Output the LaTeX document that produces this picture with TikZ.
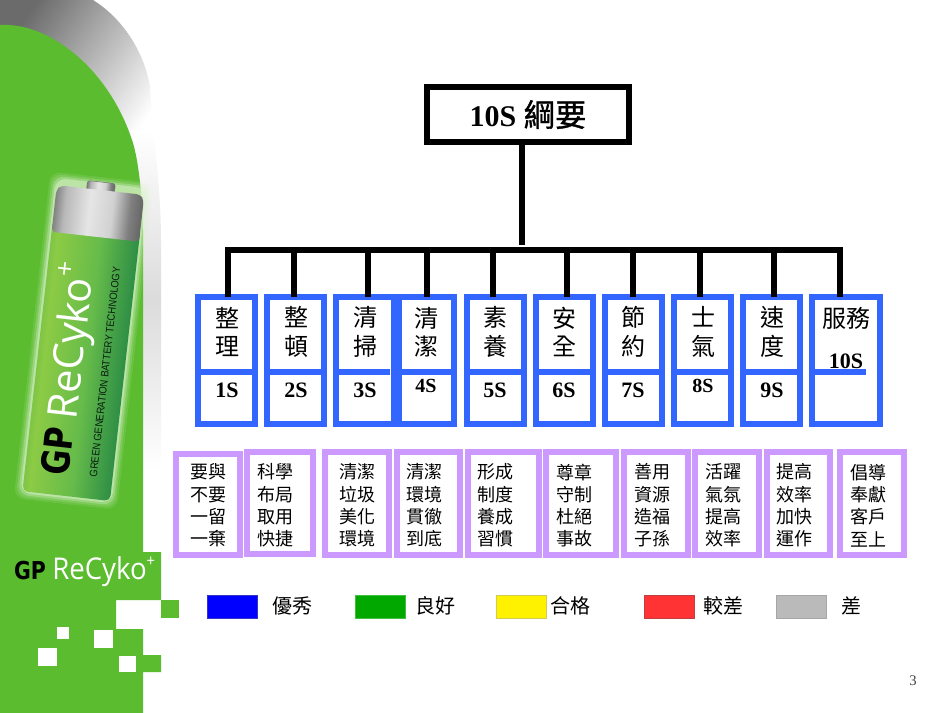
\documentclass[tikz,border=0pt]{standalone}
\usepackage{fontspec}
\setmainfont{Liberation Serif}
\newfontfamily\cjk{Noto Sans CJK TC}
\newfontfamily\cjkheavy[FakeBold=1.2]{Noto Sans CJK TC}
\newfontfamily\logofont{Open Sans}
\newfontfamily\gpfont{DejaVu Sans}
\newfontfamily\smallfont{Liberation Sans}
\usetikzlibrary{calc}

\definecolor{gpgreen}{HTML}{5ABC2E}
\definecolor{sblue}{HTML}{3366FF}
\definecolor{spurple}{HTML}{CC99FF}
\definecolor{batedge}{HTML}{4FAE4C}
\definecolor{batlight}{HTML}{8CCB45}
\definecolor{batmid}{HTML}{66BB4A}
\definecolor{batdark}{HTML}{2F8F45}
\definecolor{batglow}{HTML}{DDF2CF}

\pgfdeclarehorizontalshading{batgreen}{100bp}{color(0bp)=(batedge); color(25bp)=(batedge); color(36bp)=(batlight); color(52bp)=(batmid); color(66bp)=(batdark); color(72bp)=(batedge); color(75bp)=(batmid); color(100bp)=(batmid)}
\pgfdeclarehorizontalshading{batsilver}{100bp}{color(0bp)=(black!50); color(25bp)=(black!50); color(31bp)=(black!28); color(45bp)=(black!10); color(58bp)=(black!18); color(68bp)=(black!50); color(75bp)=(black!60); color(100bp)=(black!60)}

\tikzset{
  sbox/.style={draw=sblue, line width=6*0.75pt, rectangle, outer sep=0pt, inner sep=0pt},
  pbox/.style={draw=spurple, line width=6*0.75pt, rectangle, outer sep=0pt, inner sep=0pt},
  conn/.style={line width=6*0.75pt, black},
  hanzi/.style={font=\cjk\fontsize{18}{21.4}\selectfont, align=center, inner sep=0pt},
  motto/.style={font=\cjk\fontsize{13.5}{16.7}\selectfont, align=center, inner sep=0pt},
  num/.style={font=\bfseries\fontsize{16.5}{18}\selectfont, inner sep=0pt},
  numsmall/.style={font=\bfseries\fontsize{15}{18}\selectfont, inner sep=0pt},
  swatch/.style={rectangle, outer sep=0pt, inner sep=0pt, line width=0.6pt, minimum width=50*0.75pt, minimum height=23*0.75pt},
  legendtext/.style={font=\cjk\fontsize{15}{18}\selectfont, inner sep=0pt},
  whitesq/.style={fill=white, draw=none}
}

\begin{document}
\begin{tikzpicture}[x=0.75pt,y=-0.75pt]
  \def\px{0.75pt}
  \useasboundingbox (0,0) rectangle (950,713);
  \fill[white] (0,0) rectangle (950,713);

  % Sombra gris
  \shade[top color=black!58, bottom color=white, shading angle=55]
    (0,0) -- (93,0) .. controls (125,20) and (145,55) .. (150,87) -- (155,160) -- (0,160) -- cycle;
  \shade[top color=white, bottom color=white, middle color=black!14]
    (130,130) -- (153,130) .. controls (158,170) and (161,210) .. (161,240) -- (161,470) -- (130,470) -- cycle;

  % Franja verde
  \fill[gpgreen] (0,25) .. controls (50,22) and (110,70) .. (133,143)
    .. controls (138,160) and (142,190) .. (143,230) -- (143,552) -- (161,552) -- (161,600)
    -- (116,600) -- (116,629) -- (143,629) -- (143,655) -- (161,655) -- (161,672)
    -- (143,672) -- (143,713) -- (0,713) -- cycle;
  \fill[gpgreen] (161,600) rectangle (179,618);
  \fill[whitesq] (57,627) rectangle (69,639);
  \fill[whitesq] (94,630) rectangle (113,648);
  \fill[whitesq] (38,648) rectangle (57,666);
  \fill[whitesq] (119,656) rectangle (136,672);

  % Pila
  \begin{scope}[shift={(100,195)},rotate=-6.4]
    \foreach \g/\op in {8/0.12,6/0.18,4/0.3,2/0.5} {
      \fill[batglow,opacity=\op,rounded corners=8pt] ({-44-\g},{-10-\g}) rectangle ({44+\g},{303+\g});
    }
    \shade[shading=batsilver, shading angle=-6.4, rounded corners=2pt] (-14,-13) rectangle (14,-3);
    \draw[black!55, line width=0.4pt, rounded corners=2pt] (-14,-13) rectangle (14,-3);
    \shade[shading=batgreen, shading angle=-6.4, rounded corners=4pt] (-44,30) rectangle (44,303);
    \shade[shading=batsilver, shading angle=-6.4, rounded corners=3pt]
      (-44,42) -- (-44,0) -- (-40,-5) -- (40,-5) -- (44,0) -- (44,42) -- cycle;
  \end{scope}
  \node[rotate=83.6, text=white, inner sep=0pt, font=\logofont\fontsize{31}{34}\selectfont] (batname) at (73,341) {ReCyko\raisebox{0.45em}{\fontsize{20}{20}\selectfont +}};
  \node[rotate=83.6, text=black, inner sep=0pt, font=\gpfont\bfseries\fontsize{29}{30}\selectfont] (batgp) at (57,451) {\scalebox{0.8}[1]{GP}};
  \node[rotate=83.6, text=black!80!batdark, inner sep=0pt, font=\smallfont\fontsize{8}{9}\selectfont] (battag) at (105,372) {\scalebox{0.88}[1]{GREEN GENERATION BATTERY TECHNOLOGY}};

  % Marca
  \node[text=black, inner sep=0pt, font=\gpfont\bfseries\fontsize{18.5}{20}\selectfont] (loggp) at (30,571) {\scalebox{0.83}[1]{GP}};
  \node[text=white, anchor=west, inner sep=0pt, font=\logofont\fontsize{22.5}{24}\selectfont] (logname) at (52,572) {\scalebox{0.92}[1]{ReCyko\raisebox{0.45em}{\fontsize{12}{12}\selectfont +}}};

  % Titulo
  \node[draw=black, line width=6*\px, outer sep=0pt, inner sep=0pt, minimum width=202*\px, minimum height=55*\px,
        font=\bfseries\fontsize{22.5}{26}\selectfont] (title) at (528,114.5) {10S {\cjkheavy\mdseries\fontsize{23.5}{26}\selectfont 綱要}};
  \coordinate (titledrop) at (522,245);
  \draw[conn] (title.south -| titledrop) -- (titledrop);

  % Barra
  \coordinate (busl) at (225,250);
  \coordinate (busr) at (843,250);
  \draw[conn] (busl) -- (busr);

  % Columnas
  \foreach \n/\xl/\xr/\bx/\tx/\ty/\word/\sx/\sy/\sstyle/\stxt in {
    1/195/258/228/227/332/整\\理/227/390/num/1S,
    2/264/327/294/296/332/整\\頓/296/390/num/2S,
    3/333/397/368/365/332/清\\掃/365/390/num/3S,
    4/396/457/427/426/332/清\\潔/426/386/numsmall/4S,
    5/464/527/493/495/332/素\\養/495/390/num/5S,
    6/533/596/567/564/332/安\\全/564/390/num/6S,
    7/602/665/633/633/332/節\\約/633/390/num/7S,
    8/671/734/700/703/332/士\\氣/703/386/numsmall/8S,
    9/740/803/774/772/332/速\\度/772/390/num/9S,
    10/809/883/840/846/318/服務/846/361/num/10S} {
    \node[sbox, minimum width={(\xr-\xl-6)*\px}, minimum height=127*\px] (box\n) at ({(\xl+\xr)/2},360.5) {};
    \draw[draw=sblue, line width=6*\px] (\xl,372) -- ++(57,0);
    \node[hanzi] (word\n) at (\tx,\ty) {\word};
    \node[\sstyle] (num\n) at (\sx,\sy) {\stxt};
    \coordinate (bus\n) at (\bx,250);
    \draw[conn] (bus\n) -- (bus\n |- box\n.north);
  }

  % Lemas
  \foreach \n/\xl/\xr/\yt/\yb/\tx/\tm in {
    1/173/243/451/558/208/要與\\不要\\一留\\一棄,
    2/244/316/449/557/275/科學\\布局\\取用\\快捷,
    3/322/392/449/558/357/清潔\\垃圾\\美化\\環境,
    4/394/463/449/558/424/清潔\\環境\\貫徹\\到底,
    5/465/542/449/558/495/形成\\制度\\養成\\習慣,
    6/543/619/449/558/574/尊章\\守制\\杜絕\\事故,
    7/621/691/449/558/652/善用\\資源\\造福\\子孫,
    8/692/762/449/558/723/活躍\\氣氛\\提高\\效率,
    9/764/833/449/558/794/提高\\效率\\加快\\運作,
    10/837/907/449/558/868/倡導\\奉獻\\客戶\\至上} {
    \node[pbox, minimum width={(\xr-\xl-6)*\px}, minimum height={(\yb-\yt-6)*\px}] (mbox\n) at ({(\xl+\xr)/2},{(\yt+\yb)/2}) {};
    \node[motto] (motto\n) at (\tx,505.5) {\tm};
  }

  % Leyenda
  \foreach \n/\cx/\fillc/\linec/\tx/\lab in {
    1/232/blue/blue!60!gray/292/優秀,
    2/380.5/green!66!black/green!50!gray/435/良好,
    3/521/yellow/yellow!60!gray/570/合格,
    4/669.5/red!80!white/red!50!gray/723/較差,
    5/801.5/black!27/black!35/851/差} {
    \node[swatch, fill=\fillc, draw=\linec] (swatch\n) at (\cx,606.5) {};
    \node[legendtext] (legend\n) at (\tx,606) {\lab};
  }

  \node[inner sep=0pt, font=\fontsize{11}{13}\selectfont, text=black!75] (pageno) at (913,681) {3};
\end{tikzpicture}
\end{document}
